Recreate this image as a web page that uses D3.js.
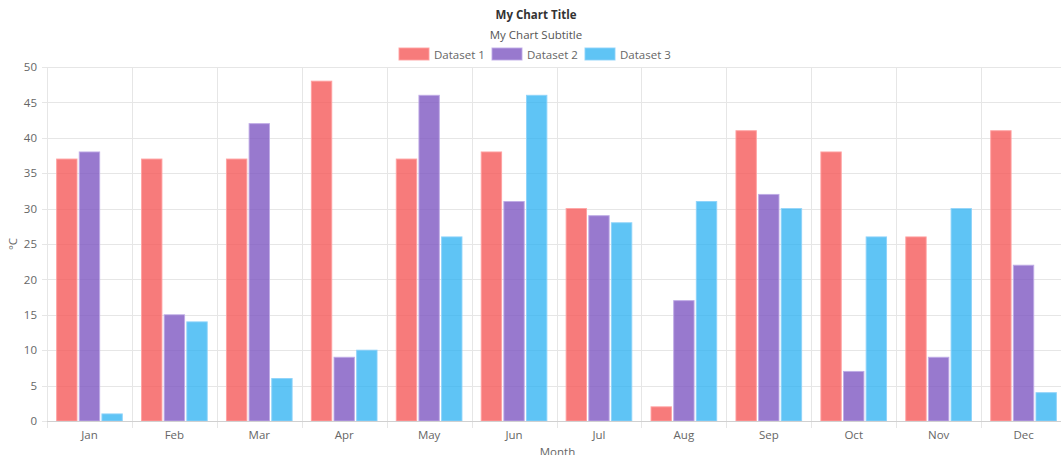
<!DOCTYPE html>
<html>
<head>
<meta charset="utf-8">
<script src="https://cdn.jsdelivr.net/npm/d3@7"></script>
<style>
  html, body { margin: 0; padding: 0; background: #fff; overflow: hidden; }
  svg { display: block; font-family: "Open Sans", sans-serif; }
</style>
</head>
<body>
<svg id="chart" width="1061" height="455"></svg>
<script>
'use strict';

const months = ['Jan', 'Feb', 'Mar', 'Apr', 'May', 'Jun', 'Jul', 'Aug', 'Sep', 'Oct', 'Nov', 'Dec'];
const seriesNames = ['Dataset 1', 'Dataset 2', 'Dataset 3'];
const dataset1 = [37, 37, 37, 48, 37, 38, 30, 2, 41, 38, 26, 41];
const dataset2 = [38, 15, 42, 9, 46, 31, 29, 17, 32, 7, 9, 22];
const dataset3 = [1, 14, 6, 10, 26, 46, 28, 31, 30, 26, 30, 4];
const yTicks = [0, 5, 10, 15, 20, 25, 30, 35, 40, 45, 50];

const fills = ['rgba(245, 90, 90, 0.8)', 'rgba(126, 87, 194, 0.8)', 'rgba(41, 176, 242, 0.75)'];
const strokes = ['rgba(255, 160, 160, 0.9)', 'rgba(190, 170, 230, 0.9)', 'rgba(140, 210, 250, 0.9)'];

const svg = d3.select('#chart');
const margin = { top: 67, left: 47, bottom: 34 };
const plotRight = 1066; // plot runs slightly past the window edge
const height = 455;

const x = d3.scaleBand().domain(months).range([margin.left, plotRight]);
const y = d3.scaleLinear().domain([0, 50]).range([height - margin.bottom, margin.top]);

// grid
const grid = svg.append('g').attr('stroke', '#e6e6e6').attr('stroke-width', 1);
grid.selectAll('line.h').data(yTicks).join('line')
  .attr('x1', margin.left - 5).attr('x2', plotRight)
  .attr('y1', d => Math.round(y(d)) + 0.5).attr('y2', d => Math.round(y(d)) + 0.5);
const bounds = months.map(m => x(m)).concat([plotRight]);
grid.selectAll('line.v').data(bounds).join('line')
  .attr('x1', d => Math.round(d) + 0.5).attr('x2', d => Math.round(d) + 0.5)
  .attr('y1', margin.top).attr('y2', y(0) + 7);

// bars
const inner = d3.scaleBand().domain(seriesNames)
  .range([0, x.bandwidth()]).paddingInner(0.1 / 0.9 * 0.9).paddingOuter(0.1 / 0.9 * 0.9);
const groupWidth = x.bandwidth() * 0.8;
const slot = groupWidth / 3;
const barW = slot * 0.9;
[dataset1, dataset2, dataset3].forEach((vals, si) => {
  svg.append('g').selectAll('rect').data(vals).join('rect')
    .attr('x', (d, i) => x(months[i]) + x.bandwidth() * 0.1 + si * slot + (slot - barW) / 2)
    .attr('width', barW)
    .attr('y', d => y(d))
    .attr('height', d => y(0) - y(d))
    .attr('fill', fills[si])
    .attr('stroke', strokes[si])
    .attr('stroke-width', 1);
});

// axes
svg.append('line').attr('stroke', '#d0d0d0')
  .attr('x1', margin.left).attr('x2', plotRight)
  .attr('y1', Math.round(y(0)) + 0.5).attr('y2', Math.round(y(0)) + 0.5);

const yAxis = d3.axisLeft(y).tickValues(yTicks).tickSize(0).tickPadding(10);
const gy = svg.append('g').attr('transform', `translate(${margin.left},0)`).call(yAxis);
gy.select('.domain').remove();
gy.selectAll('text').attr('fill', '#666').style('font-size', '11.5px').style('font-family', '"Open Sans", sans-serif');

const xAxis = d3.axisBottom(x).tickSize(0).tickPadding(10);
const gx = svg.append('g').attr('transform', `translate(0,${y(0)})`).call(xAxis);
gx.select('.domain').remove();
gx.selectAll('text').attr('fill', '#666').style('font-size', '11.5px').style('font-family', '"Open Sans", sans-serif');

// axis titles
svg.append('text').attr('x', (margin.left + plotRight) / 2 + 1).attr('y', 456)
  .attr('text-anchor', 'middle').attr('fill', '#666').style('font-size', '11.5px').text('Month');
svg.append('text').attr('transform', `translate(17,${(y(0) + y(50)) / 2}) rotate(-90)`)
  .attr('text-anchor', 'middle').attr('fill', '#666').style('font-size', '11.5px').text('°C');

// title + subtitle
svg.append('text').attr('x', 536).attr('y', 19).attr('text-anchor', 'middle')
  .attr('fill', '#333').style('font-size', '11.5px').style('font-weight', 'bold').text('My Chart Title');
svg.append('text').attr('x', 536).attr('y', 39).attr('text-anchor', 'middle')
  .attr('fill', '#555').style('font-size', '11.5px').text('My Chart Subtitle');

// legend
const legendX = [399, 492, 585];
const legend = svg.append('g').selectAll('g').data(seriesNames).join('g')
  .attr('transform', (d, i) => `translate(${legendX[i]},48)`);
legend.append('rect').attr('width', 30).attr('height', 12)
  .attr('fill', (d, i) => fills[i]).attr('stroke', (d, i) => strokes[i]);
legend.append('text').attr('x', 35).attr('y', 10.5).attr('fill', '#666')
  .style('font-size', '11.5px').text(d => d);
</script>
</body>
</html>
